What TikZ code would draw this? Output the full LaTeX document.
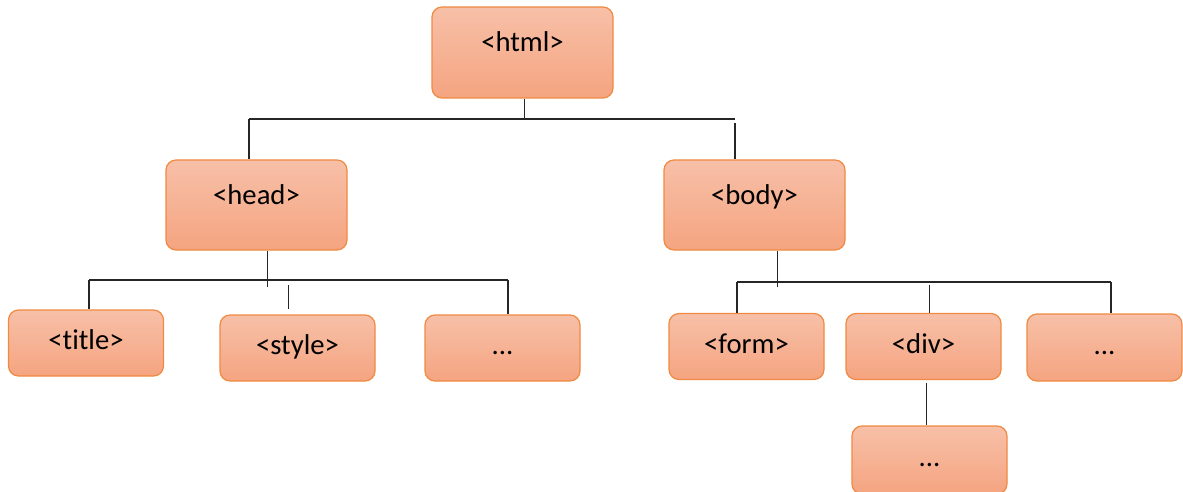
\documentclass[tikz,border=0pt]{standalone}
\usepackage{fontspec}
\setmainfont{Carlito}[Ligatures=NoCommon]
\definecolor{boxtop}{RGB}{247,192,168}
\definecolor{boxbot}{RGB}{245,164,128}
\definecolor{boxline}{RGB}{240,138,66}
\tikzset{every picture/.style={line width=0.75pt}}
\tikzset{
  tagbox/.style={draw=boxline, line width=0.9pt, rounded corners=7.5pt,
    top color=boxtop, bottom color=boxbot, inner sep=0pt,
    minimum width=116.25pt, minimum height=49.5pt,
    text height=14pt, text depth=4pt, font=\fontsize{21.5}{26}\selectfont},
  tallbox/.style={tagbox, minimum width=135.75pt, minimum height=67.5pt,
    text height=14pt, text depth=15pt},
  branch/.style={draw=black!85, line width=0.8pt}
}

\begin{document}
\begin{tikzpicture}[x=0.75pt,y=0.75pt,yscale=-1,xscale=1]
	\useasboundingbox (0,0) rectangle (1183,492);

	% top level
	\node [tallbox, minimum height=68.25pt] (html) at (522.5,52.5) {<html>};
	\node [tallbox] (head) at (256.5,205) {<head>};
	\node [tallbox] (body) at (754.5,205) {<body>};

	% children of head
	\node [tagbox] (title) at (86,343) {<title>};
	\node [tagbox] (style) at (297.5,348) {<style>};
	\node [tagbox] (headmore) at (502.5,348) {...};

	% children of body
	\node [tagbox] (form) at (746.5,346.5) {<form>};
	\node [tagbox] (div) at (923.5,346.5) {<div>};
	\node [tagbox, minimum height=50.25pt] (bodymore) at (1104.5,347.5) {...};

	% child of div
	\node [tagbox, minimum height=51pt] (divmore) at (929.5,460) {...};

	% bars
	\coordinate (bar1L) at (249,119);
	\coordinate (bar1R) at (735,119);
	\coordinate (bar2L) at (89,280);
	\coordinate (bar2R) at (508,280);
	\coordinate (bar3L) at (737,282);
	\coordinate (bar3R) at (1111,282);

	% html -> head, body
	\draw [branch] ([xshift=1.5]html.south) -- ([xshift=1.5]html.south |- bar1L);
	\draw [branch] (bar1L) -- (bar1R);
	\draw [branch] (bar1L) -- (head.north -| bar1L);
	\draw [branch] ([yshift=3]bar1R) -- (body.north -| bar1R);

	% head -> title, style, ...
	\draw [branch] ([xshift=8.5]head.south) -- ([xshift=8.5,yshift=5]head.south |- bar2L);
	\draw [branch] (bar2L) -- (bar2R);
	\draw [branch] (bar2L) -- (title.north -| bar2L);
	\draw [branch] ([xshift=-6.5,yshift=4]style.north |- bar2L) -- ([xshift=-6.5,yshift=-4]style.north);
	\draw [branch] (bar2R) -- (headmore.north -| bar2R);

	% body -> form, div, ...
	\draw [branch] ([xshift=17.5]body.south) -- ([xshift=17.5,yshift=4]body.south |- bar3L);
	\draw [branch] (bar3L) -- (bar3R);
	\draw [branch] (bar3L) -- (form.north -| bar3L);
	\draw [branch] ([xshift=4.5,yshift=2]div.north |- bar3L) -- ([xshift=4.5]div.north);
	\draw [branch] (bar3R) -- (bodymore.north -| bar3R);

	% div -> ...
	\draw [branch] ([xshift=2.5,yshift=2]div.south) -- ([xshift=2.5]div.south |- divmore.north);

\end{tikzpicture}
\end{document}
